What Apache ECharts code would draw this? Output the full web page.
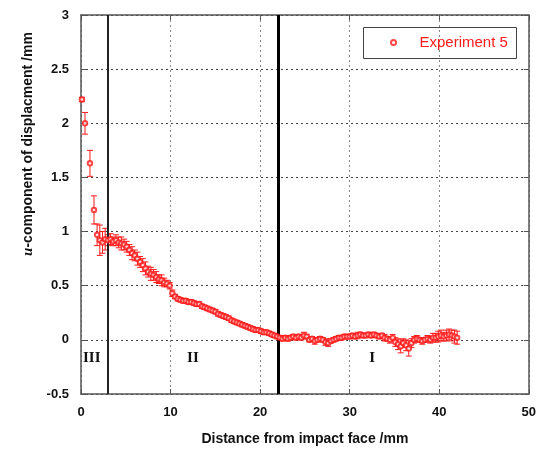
<!DOCTYPE html>
<html>
<head>
<meta charset="utf-8">
<script src="https://cdn.jsdelivr.net/npm/echarts@6/dist/echarts.min.js"></script>
<style>html,body{margin:0;padding:0;background:#fff;}#c{width:539px;height:459px;}</style>
</head>
<body>
<div id="c"></div>
<script>
// distance from impact face (mm)
var distance = [0.1,0.45,1.0,1.45,1.8,2.1,2.4,2.7,
3.0,3.3,3.6,3.9,4.2,4.5,4.8,5.1,5.4,5.7,6.0,6.3,6.6,6.9,7.2,7.5,7.8,8.1,8.4,8.7,9.0,9.3,9.6,9.9,
10.2,10.5,10.8,11.1,11.4,11.7,12.0,12.3,12.6,12.9,13.2,13.5,13.8,14.1,14.4,14.7,15.0,15.3,15.6,15.9,
16.2,16.5,16.8,17.1,17.4,17.7,18.0,18.3,18.6,18.9,19.2,19.5,19.8,20.1,20.4,20.7,21.0,21.3,21.6,21.9,
22.2,22.5,22.8,23.1,23.4,23.7,24.0,24.3,24.6,24.9,25.2,25.5,25.8,26.1,26.4,26.7,27.0,27.3,27.6,27.9,
28.2,28.5,28.8,29.1,29.4,29.7,30.0,30.3,30.6,30.9,31.2,31.5,31.8,32.1,32.4,32.7,33.0,33.3,33.6,33.9,
34.2,34.5,34.8,35.1,35.4,35.7,36.0,36.3,36.6,36.9,37.2,37.5,37.8,38.1,38.4,38.7,39.0,39.3,39.6,39.9,
40.2,40.5,40.8,41.1,41.4,41.7,42.0];
// u-component of displacement (mm)
var displacement = [2.22,2.0,1.63,1.2,0.97,0.92,0.9,0.93,
0.92,0.93,0.91,0.92,0.9,0.89,0.88,0.86,0.83,0.80,0.78,0.75,0.72,0.69,0.66,0.63,0.61,0.60,0.58,0.56,0.55,0.53,0.52,0.50,
0.43,0.40,0.38,0.37,0.36,0.36,0.35,0.35,0.34,0.33,0.33,0.31,0.30,0.29,0.28,0.27,0.26,0.24,0.23,0.22,
0.21,0.20,0.18,0.17,0.16,0.15,0.14,0.13,0.12,0.11,0.10,0.09,0.09,0.08,0.07,0.07,0.06,0.05,0.04,0.03,
0.02,0.01,0.02,0.01,0.02,0.03,0.02,0.03,0.02,0.04,0.03,0.00,0.01,-0.01,0.00,0.01,0.00,-0.02,-0.03,-0.01,
0.00,0.01,0.02,0.02,0.03,0.03,0.03,0.04,0.03,0.04,0.05,0.04,0.04,0.05,0.04,0.05,0.04,0.03,0.04,0.02,
0.01,0.00,0.02,-0.02,-0.04,-0.06,-0.03,-0.05,-0.08,-0.03,0.00,0.01,0.00,-0.01,0.00,0.01,0.00,0.02,0.02,0.03,
0.04,0.03,0.04,0.05,0.04,0.03,0.02];
// error (half-length of error bar, mm)
var errorBar = [0.02,0.1,0.12,0.13,0.1,0.14,0.1,0.1,
0.05,0.05,0.04,0.05,0.05,0.06,0.05,0.05,0.05,0.06,0.05,0.06,0.05,0.06,0.06,0.05,0.06,0.05,0.05,0.04,0.05,0.04,0.03,0.03,
0.03,0.02,0.02,0.02,0.02,0.02,0.02,0.02,0.02,0.02,0.02,0.02,0.02,0.02,0.02,0.02,0.02,0.02,0.02,0.02,
0.02,0.02,0.02,0.02,0.02,0.02,0.02,0.02,0.02,0.02,0.02,0.02,0.02,0.02,0.02,0.02,0.02,0.02,0.02,0.02,
0.02,0.02,0.02,0.02,0.02,0.02,0.02,0.02,0.02,0.03,0.02,0.02,0.02,0.03,0.02,0.02,0.02,0.03,0.03,0.02,
0.02,0.02,0.02,0.02,0.02,0.02,0.02,0.02,0.02,0.03,0.02,0.02,0.02,0.02,0.02,0.02,0.02,0.02,0.02,0.03,
0.02,0.03,0.03,0.04,0.05,0.06,0.04,0.05,0.07,0.04,0.03,0.03,0.02,0.03,0.02,0.03,0.03,0.04,0.04,0.05,
0.05,0.04,0.05,0.05,0.05,0.06,0.06];
var regionBounds = [3, 22];
var regionLabels = ['III', 'II', 'I'];
var regionLabelX = [1.2, 12.5, 32.5];
var regionLabelY = -0.17;
var xTicks = [0, 10, 20, 30, 40, 50];
var yTicks = [-0.5, 0, 0.5, 1, 1.5, 2, 2.5, 3];
var seriesName = 'Experiment 5';

var pts = distance.map(function (d, i) { return [d, displacement[i]]; });
var errs = distance.map(function (d, i) { return [d, displacement[i] - errorBar[i], displacement[i] + errorBar[i]]; });

var chart = echarts.init(document.getElementById('c'), null, {renderer: 'canvas'});
var labelFont = {fontFamily: 'Liberation Sans, Arial', fontWeight: 'bold', fontSize: 13, color: '#111'};
var gridStyleH = {show: true, lineStyle: {color: '#444', type: [2, 3], width: 1}};
var gridStyleV = {show: true, lineStyle: {color: '#888', type: [2, 3], width: 1}};

var baseGraphic = [{
    id: 'legendBox', type: 'rect', left: 363, top: 27, z: 10,
    shape: {width: 153, height: 31},
    style: {fill: 'rgba(0,0,0,0)', stroke: '#444', lineWidth: 1}
  }, {
    id: 'yTitle', type: 'text', x: 28, y: 144, rotation: Math.PI / 2,
    style: {
      text: '{i|u}-component of displacment /mm',
      align: 'center', verticalAlign: 'middle',
      fontFamily: 'Liberation Sans, Arial', fontWeight: 'bold', fontSize: 14, fill: '#111',
      rich: {i: {fontStyle: 'italic', fontFamily: 'Liberation Serif, Times New Roman', fontWeight: 'bold', fontSize: 15, fill: '#111'}}
    }
  }];

chart.setOption({
  animation: false,
  backgroundColor: '#fff',
  grid: {left: 81, top: 15, width: 451, height: 379, containLabel: false},
  xAxis: [{
    type: 'value', min: 0, max: 50, interval: 10, position: 'bottom',
    axisLine: {onZero: false, lineStyle: {color: '#555', width: 1.5}},
    axisTick: {inside: true, length: 5, lineStyle: {color: '#555'}},
    axisLabel: Object.assign({margin: 12}, labelFont),
    splitLine: gridStyleV,
    name: 'Distance from impact face /mm', nameLocation: 'middle', nameGap: 38,
    nameTextStyle: {fontFamily: 'Liberation Sans, Arial', fontWeight: 'bold', fontSize: 14, color: '#111'}
  }, {
    type: 'value', min: 0, max: 50, interval: 10, position: 'top',
    axisLine: {onZero: false, lineStyle: {color: '#555', width: 1.5}},
    axisTick: {inside: true, length: 5, lineStyle: {color: '#555'}},
    axisLabel: {show: false}, splitLine: {show: false}
  }],
  yAxis: [{
    type: 'value', min: -0.5, max: 3, interval: 0.5, position: 'left',
    axisLine: {onZero: false, lineStyle: {color: '#555', width: 1.5}},
    axisTick: {inside: true, length: 5, lineStyle: {color: '#555'}},
    axisLabel: Object.assign({margin: 12}, labelFont),
    splitLine: gridStyleH
  }, {
    type: 'value', min: -0.5, max: 3, interval: 0.5, position: 'right',
    axisLine: {onZero: false, lineStyle: {color: '#555', width: 1.5}},
    axisTick: {inside: true, length: 5, lineStyle: {color: '#555'}},
    axisLabel: {show: false}, splitLine: {show: false}
  }],
  legend: {
    data: [{name: seriesName, icon: 'emptyCircle'}],
    left: 390, top: 35, padding: 0,
    itemWidth: 18, itemHeight: 5,
    textStyle: {color: '#ff1a1a', fontFamily: 'Liberation Sans, Arial', fontSize: 15, padding: [0, 0, 0, 12]}
  },
  graphic: baseGraphic,
  series: [{
    name: seriesName, type: 'scatter', data: pts,
    symbol: 'emptyCircle', symbolSize: 4.5,
    itemStyle: {color: '#ff1a1a', borderColor: '#ff1a1a', borderWidth: 1},
    z: 5,
    markLine: {
      silent: true, symbol: 'none', label: {show: false},
      data: [{xAxis: regionBounds[0], lineStyle: {color: '#222', width: 2, type: 'solid'}},
             {xAxis: regionBounds[1], lineStyle: {color: '#000', width: 3, type: 'solid'}}]
    }
  }, {
    name: 'err', type: 'custom', data: errs, z: 4,
    renderItem: function (params, api) {
      var x = api.value(0);
      var lo = api.coord([x, api.value(1)]);
      var hi = api.coord([x, api.value(2)]);
      var cw = 3;
      var st = {stroke: '#ff1a1a', lineWidth: 1};
      return {type: 'group', children: [
        {type: 'line', shape: {x1: lo[0], y1: lo[1], x2: hi[0], y2: hi[1]}, style: st},
        {type: 'line', shape: {x1: lo[0] - cw, y1: lo[1], x2: lo[0] + cw, y2: lo[1]}, style: st},
        {type: 'line', shape: {x1: hi[0] - cw, y1: hi[1], x2: hi[0] + cw, y2: hi[1]}, style: st}
      ]};
    }
  }]
});

var extra = regionLabels.map(function (t, i) {
  var p = chart.convertToPixel({xAxisIndex: 0, yAxisIndex: 0}, [regionLabelX[i], regionLabelY]);
  return {id: 'region' + i, type: 'text', x: p[0], y: p[1], style: {text: t, align: 'center', verticalAlign: 'middle',
    fontFamily: 'Liberation Serif, Times New Roman', fontWeight: 'bold', fontSize: 15, fill: '#111'}};
});
chart.setOption({graphic: baseGraphic.concat(extra)});
</script>
</body>
</html>
